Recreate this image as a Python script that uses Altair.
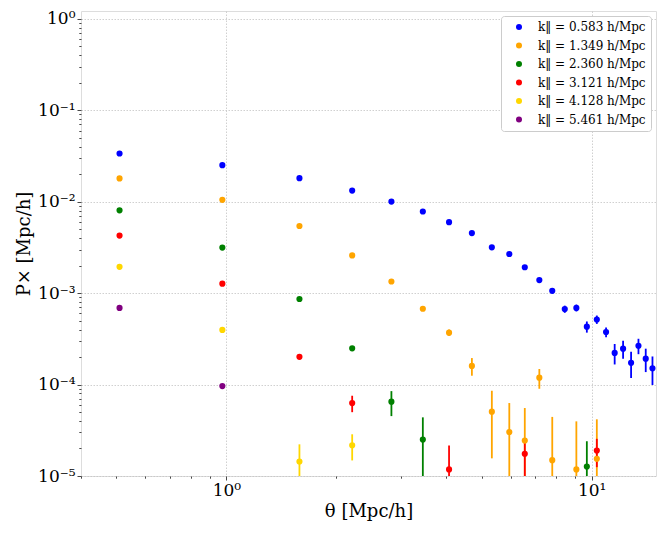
import altair as alt
import pandas as pd

# theta bins [Mpc/h]
theta = [0.51, 0.975, 1.585, 2.21, 2.83, 3.45, 4.07, 4.70, 5.33, 5.95, 6.56, 7.19,
         7.80, 8.44, 9.08, 9.70, 10.33, 10.95, 11.56, 12.19, 12.82, 13.43, 14.06, 14.67]

k_labels = ["k‖ = 0.583 h/Mpc", "k‖ = 1.349 h/Mpc", "k‖ = 2.360 h/Mpc",
            "k‖ = 3.121 h/Mpc", "k‖ = 4.128 h/Mpc", "k‖ = 5.461 h/Mpc"]
colors = ["#0000ff", "#ffa500", "#008000", "#ff0000", "#ffd700", "#800080"]

# series 1: k = 0.583
idx_1 = list(range(24))
p_1 = [0.0337, 0.0251, 0.0181, 0.01324, 0.01004, 0.00782, 0.00598, 0.00454, 0.00317,
       0.00268, 0.00192, 0.00139, 0.00106, 0.00067, 0.00069, 0.00043, 0.000515,
       0.000376, 0.000222, 0.000247, 0.000173, 0.000266, 0.000192, 0.000151]
e_1 = [0.0003, 0.0002, 0.00015, 0.0001, 0.00008, 0.00007, 0.00006, 0.00005, 0.00004,
       0.00004, 0.00004, 0.00004, 0.00004, 0.00006, 0.00006, 0.00006, 0.000054,
       0.000046, 0.000056, 0.000055, 0.000055, 0.000051, 0.000055, 0.000052]

# series 2: k = 1.349
idx_2 = [0, 1, 2, 3, 4, 5, 6, 7, 8, 9, 10, 11, 12, 14, 16]
p_2 = [0.018, 0.0105, 0.00543, 0.00259, 0.00134, 0.000675, 0.00037, 0.00016,
       5.06e-5, 3.03e-5, 2.44e-5, 1.19e-4, 1.49e-5, 1.18e-5, 1.54e-5]
e_2 = [0.0002, 0.0001, 0.00005, 0.00003, 0.00002, 0.000015, 0.00003, 0.000035,
       3.5e-5, 3.25e-5, 3.1e-5, 2.9e-5, 2.94e-5, 2.78e-5, 2.63e-5]

# series 3: k = 2.360
idx_3 = [0, 1, 2, 3, 4, 5, 15]
p_3 = [0.00805, 0.00315, 0.000863, 0.000249, 6.5e-5, 2.5e-5, 1.27e-5]
e_3 = [0.0001, 0.00004, 0.00001, 0.000005, 1.98e-5, 1.88e-5, 1.13e-5]

# series 4: k = 3.121
idx_4 = [0, 1, 2, 3, 6, 10, 16]
p_4 = [0.00426, 0.00127, 0.000201, 6.27e-5, 1.18e-5, 1.75e-5, 1.9e-5]
e_4 = [0.00005, 0.00002, 0.000004, 1.28e-5, 0.97e-5, 0.8e-5, 0.65e-5]

# series 5: k = 4.128
idx_5 = [0, 1, 2, 3]
p_5 = [0.00194, 0.000396, 1.44e-5, 2.17e-5]
e_5 = [0.00003, 0.000006, 0.78e-5, 0.69e-5]

# series 6: k = 5.461
idx_6 = [0, 1]
p_6 = [0.00069, 9.62e-5]
e_6 = [0.00001, 0.000002]

series = [(idx_1, p_1, e_1), (idx_2, p_2, e_2), (idx_3, p_3, e_3),
          (idx_4, p_4, e_4), (idx_5, p_5, e_5), (idx_6, p_6, e_6)]

rows = []
order = 0
for s, (idx, pv, ev) in enumerate(series):
    for i, p, e in zip(idx, pv, ev):
        rows.append({"k": k_labels[s], "theta": theta[i], "p": p,
                     "lo": max(p - e, 1e-7), "hi": p + e, "ord": order})
        order += 1
df = pd.DataFrame(rows)

x_major = [1, 10]
x_minor = [0.4, 0.5, 0.6, 0.7, 0.8, 0.9, 2, 3, 4, 5, 6, 7, 8, 9]
y_major = [1e-5, 1e-4, 1e-3, 1e-2, 1e-1, 1e0]
y_minor = [m * 10.0 ** d for d in range(-5, 0) for m in range(2, 10)]

major_test = "abs(log(datum.value)/LN10 - round(log(datum.value)/LN10)) < 0.001"
sup_expr = ("(" + major_test + ") ? ("
            "round(log(datum.value)/LN10) == 0 ? '10⁰' : "
            "round(log(datum.value)/LN10) == 1 ? '10¹' : "
            "round(log(datum.value)/LN10) == -1 ? '10⁻¹' : "
            "round(log(datum.value)/LN10) == -2 ? '10⁻²' : "
            "round(log(datum.value)/LN10) == -3 ? '10⁻³' : "
            "round(log(datum.value)/LN10) == -4 ? '10⁻⁴' : "
            "round(log(datum.value)/LN10) == -5 ? '10⁻⁵' : '') : ''")

FONT = "DejaVu Serif"

def make_axis(values, title, orient):
    return alt.Axis(
        values=values, title=title, orient=orient,
        labelExpr=sup_expr, labelFont=FONT, labelFontSize=17, labelColor="black",
        labelOverlap=False, labelFlush=False, labelPadding=2,
        titleFont=FONT, titleFontSize=18, titleFontWeight="normal", titleColor="black",
        domain=False,
        tickColor="#333333", tickWidth=0.9,
        tickSize={"condition": {"test": major_test, "value": 4}, "value": 2.2},
        grid=True, gridColor="#c4c4c4", gridWidth=0.8, gridDash=[1.5, 1.5],
        gridOpacity={"condition": {"test": major_test, "value": 1}, "value": 0},
    )

xscale = alt.Scale(type="log", domain=[0.4, 15.0], nice=False)
yscale = alt.Scale(type="log", domain=[1e-5, 1.22], nice=False)
cscale = alt.Scale(domain=k_labels, range=colors)

x_enc = alt.X("theta:Q", scale=xscale,
              axis=make_axis(x_major + x_minor, "θ [Mpc/h]", "bottom"))
y_enc = alt.Y("p:Q", scale=yscale,
              axis=make_axis(y_major + y_minor, "P× [Mpc/h]", "left"))

bars = alt.Chart(df).mark_rule(strokeWidth=1.8, clip=True).encode(
    x=x_enc,
    y=alt.Y("lo:Q", scale=yscale),
    y2="hi:Q",
    color=alt.Color("k:N", scale=cscale, legend=None),
    order="ord:Q",
)

points = alt.Chart(df).mark_circle(size=38, opacity=1).encode(
    x=alt.X("theta:Q", scale=xscale),
    y=y_enc,
    color=alt.Color("k:N", scale=cscale, title=None,
                    legend=alt.Legend(orient="none", legendX=420, legendY=5,
                                      labelFont=FONT, labelFontSize=12,
                                      labelColor="black", symbolType="circle",
                                      symbolSize=36, symbolOffset=7,
                                      labelOffset=13, rowPadding=6.5, padding=5,
                                      fillColor="white", strokeColor="#cccccc",
                                      cornerRadius=3)),
    order="ord:Q",
)

chart = alt.layer(bars, points).resolve_legend(color="independent").properties(
    width=575, height=465,
    autosize=alt.AutoSizeParams(type="none"),
    padding={"left": 73, "top": 3, "right": 2, "bottom": 45},
).configure_view(stroke="#cccccc", strokeWidth=1.5).configure(background="white")

chart.save("out.html", embed_options={"renderer": "svg", "actions": False})
